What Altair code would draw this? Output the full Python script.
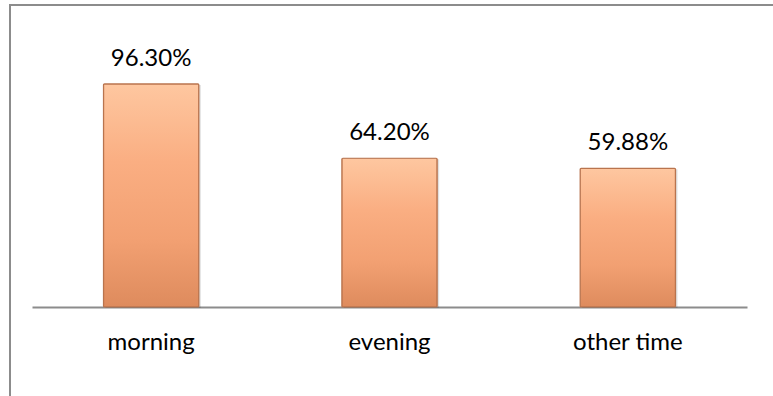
import altair as alt
import pandas as pd

categories = ["morning", "evening", "other time"]
values = [96.30, 64.20, 59.88]
labels = ["96.30%", "64.20%", "59.88%"]

df = pd.DataFrame({"cat": categories, "val": values, "lab": labels})

FONT = "Lato"

x_enc = alt.X("cat:N", sort=categories, title=None,
              scale=alt.Scale(paddingInner=0.6, paddingOuter=0.3),
              axis=alt.Axis(labelAngle=0, ticks=False, tickSize=0, labelPadding=42,
                            labelBaseline="alphabetic", labelFont=FONT, labelFontSize=24,
                            labelColor="#000000", domainColor="#8c8c8c", domainWidth=2,
                            grid=False))
y_enc = alt.Y("val:Q", title=None, scale=alt.Scale(domain=[0, 120]), axis=None)

grad = alt.Gradient(
    gradient="linear",
    stops=[
        alt.GradientStop(color="#FEC7A0", offset=0),
        alt.GradientStop(color="#FAAE82", offset=0.35),
        alt.GradientStop(color="#F2A072", offset=0.7),
        alt.GradientStop(color="#DE8B5D", offset=1),
    ],
    x1=0, x2=0, y1=0, y2=1,
)

shadow = alt.Chart(df).mark_bar(color="#000000", opacity=0.12, xOffset=2, yOffset=1).encode(
    x=x_enc, y=y_enc
)

bars = alt.Chart(df).mark_bar(color=grad, stroke="#B9744E", strokeWidth=1.2, cornerRadius=1).encode(
    x=x_enc, y=y_enc
)

text = alt.Chart(df).mark_text(font=FONT, fontSize=24, dy=-18, baseline="alphabetic",
                               color="#000000").encode(
    x=alt.X("cat:N", sort=categories), y="val:Q", text="lab:N"
)

frame_left = alt.Chart(df).mark_rule(color="#8c8c8c", strokeWidth=2).encode(
    x=alt.value(-22), y=alt.value(-24), y2=alt.value(400)
)
frame_top = alt.Chart(df).mark_rule(color="#8c8c8c", strokeWidth=2).encode(
    x=alt.value(-23), x2=alt.value(760), y=alt.value(-24)
)

chart = alt.layer(frame_left, frame_top, shadow, bars, text).properties(
    width=715, height=278,
    autosize=alt.AutoSizeParams(type="none"),
    padding={"left": 32, "top": 29, "right": 26, "bottom": 89},
    background="#ffffff",
).configure_view(stroke=None)

chart.save("out.html", embed_options={"renderer": "svg", "actions": False})
